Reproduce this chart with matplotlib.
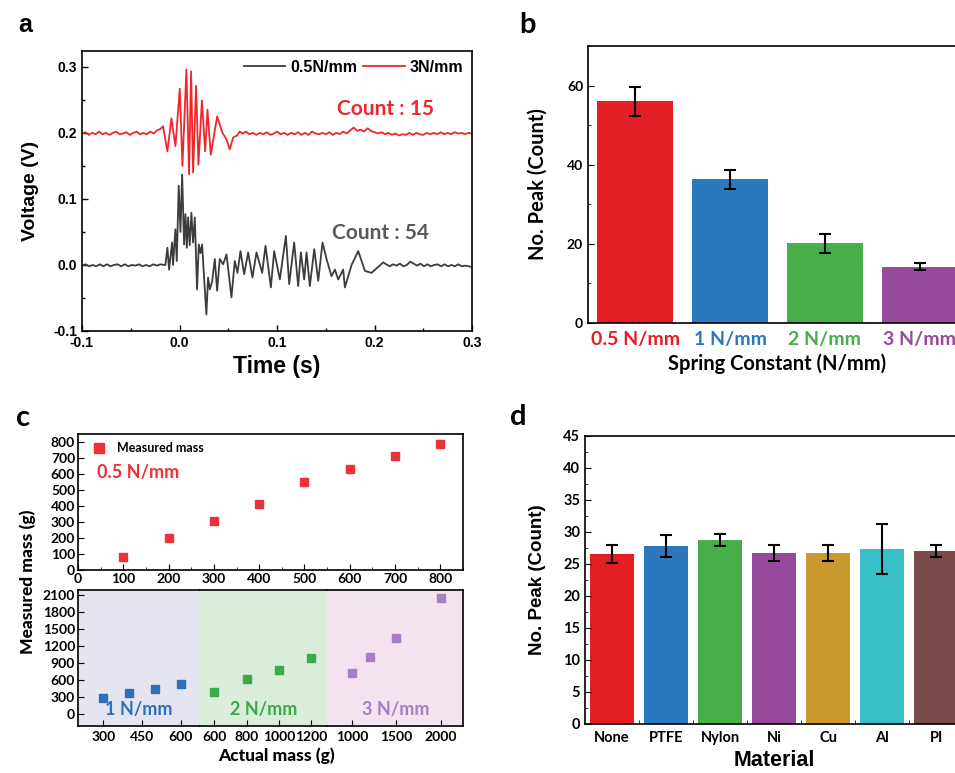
import numpy as np
import matplotlib
matplotlib.use("Agg")
from matplotlib import pyplot as plt
from matplotlib.ticker import MultipleLocator

plt.rcParams["axes.unicode_minus"] = False

W, H = 955, 773

# ---- panel a : waveforms ----
red_pre_v = [0.199, 0.201, 0.197, 0.200, 0.198, 0.202, 0.198, 0.200, 0.197, 0.200,
             0.202, 0.198, 0.199, 0.201, 0.197, 0.200, 0.202, 0.198, 0.200, 0.198,
             0.202, 0.199, 0.204, 0.206]
red_burst_t = [-0.0169, -0.0124, -0.0083, -0.0042, 0.0003, 0.0030, 0.0071, 0.0098,
               0.0119, 0.0139, 0.0170, 0.0194, 0.0230, 0.0263, 0.0287, 0.0321,
               0.0386, 0.0441, 0.0482, 0.0516, 0.0550, 0.0590, 0.0618]
red_burst_v = [0.210, 0.172, 0.222, 0.180, 0.267, 0.150, 0.296, 0.137,
               0.293, 0.140, 0.271, 0.152, 0.249, 0.172, 0.235, 0.167,
               0.225, 0.200, 0.190, 0.175, 0.193, 0.196, 0.202]
red_post_v = [0.199, 0.202, 0.198, 0.200, 0.197, 0.200, 0.198, 0.201, 0.197, 0.199,
              0.202, 0.198, 0.200, 0.197, 0.200, 0.198, 0.201, 0.197, 0.200, 0.197,
              0.202, 0.199, 0.198, 0.200, 0.198, 0.201, 0.197, 0.200, 0.198, 0.202,
              0.199, 0.204, 0.208, 0.203, 0.205, 0.202, 0.207, 0.203, 0.201, 0.199,
              0.201, 0.198, 0.200, 0.197, 0.199, 0.196, 0.198, 0.197, 0.200, 0.197,
              0.200, 0.198, 0.197, 0.200, 0.198, 0.200, 0.198, 0.201, 0.198, 0.200,
              0.198, 0.201, 0.199, 0.200, 0.198, 0.200, 0.199]

blk_pre_v = [-0.001, 0.001, -0.002, 0.000, -0.002, 0.001, -0.002, 0.001, -0.002, 0.000,
             0.001, -0.002, 0.001, -0.002, 0.000, -0.001, 0.001, -0.002, 0.000, -0.002,
             0.001, -0.001, 0.001, 0.000]
blk_burst_t = [-0.0145, -0.0124, -0.0107, -0.0076, -0.0066, -0.0042, -0.0028, -0.0008,
               0.0010, 0.0027, 0.0047, 0.0061, 0.0075, 0.0088, 0.0105, 0.0122,
               0.0139, 0.0157, 0.0180, 0.0198, 0.0215, 0.0232, 0.0252, 0.0276,
               0.0293, 0.0311, 0.0335, 0.0362, 0.0386, 0.0413, 0.0447, 0.0482,
               0.0533, 0.0567, 0.0595, 0.0625, 0.0663, 0.0704, 0.0748, 0.0790,
               0.0848, 0.0882, 0.0937, 0.0971, 0.1029, 0.1091, 0.1125, 0.1176,
               0.1217, 0.1245, 0.1279, 0.1303, 0.1337, 0.1382, 0.1423, 0.1467,
               0.1508, 0.1559, 0.1594, 0.1628, 0.1679, 0.1696, 0.1765, 0.1833,
               0.1902, 0.1970, 0.2090]
blk_burst_v = [0.000, 0.026, -0.007, 0.034, 0.000, 0.054, 0.006, 0.120,
               0.050, 0.137, 0.031, 0.077, 0.026, 0.072, 0.030, 0.079,
               0.034, 0.072, -0.037, 0.031, 0.018, 0.031, -0.019, -0.075,
               -0.019, -0.037, -0.025, 0.009, -0.039, 0.009, 0.001, 0.016,
               -0.049, 0.006, -0.012, 0.021, -0.014, 0.019, -0.019, 0.019,
               -0.012, 0.029, -0.034, 0.021, -0.022, 0.044, -0.029, 0.034,
               -0.032, 0.019, -0.022, 0.019, -0.032, 0.024, -0.024, 0.034,
               0.009, -0.017, -0.007, -0.022, -0.007, -0.034, 0.000, 0.021,
               -0.009, -0.012, 0.004]
blk_post_v = [0.001, -0.002, 0.001, -0.001, 0.002, -0.002, 0.000, 0.005, 0.002, -0.001,
              0.002, -0.002, 0.001, -0.002, 0.000, 0.001, -0.002, 0.001, -0.002, 0.000,
              -0.002, 0.001, -0.002, -0.001, -0.002, -0.003]

# ---- panel b ----
spring = ["0.5 N/mm", "1 N/mm", "2 N/mm", "3 N/mm"]
spring_peak = [56.0, 36.3, 20.1, 14.2]
spring_err = [3.7, 2.4, 2.4, 0.9]
spring_col = ["#e31e25", "#2c78bd", "#48ae4a", "#974a9b"]

# ---- panel c ----
act_05 = [100, 200, 300, 400, 500, 600, 700, 800]
meas_05 = [83, 198, 308, 415, 548, 631, 712, 790]
act_1 = [300, 400, 500, 600]
meas_1 = [272, 361, 444, 533]
act_2 = [600, 800, 1000, 1200]
meas_2 = [379, 621, 775, 982]
act_3 = [1000, 1200, 1500, 2000]
meas_3 = [722, 1006, 1349, 2053]

# ---- panel d ----
materials = ["None", "PTFE", "Nylon", "Ni", "Cu", "Al", "PI"]
mat_peak = [26.5, 27.8, 28.7, 26.7, 26.7, 27.3, 27.0]
mat_err = [1.35, 1.7, 0.95, 1.25, 1.25, 3.9, 0.9]
mat_col = ["#e31e25", "#2c78bd", "#48ae4a", "#974a9b", "#c9992d", "#36bfc4", "#7b4a4a"]


def box(l, t, r, b):
    return [l / W, 1 - b / H, (r - l) / W, (b - t) / H]


fig = plt.figure(figsize=(W / 100, H / 100), dpi=100)
arial = "Liberation Sans"
cal = "Lato"

# ================= a =================
ax = fig.add_axes(box(82, 51, 472, 331))
t_rpre = np.linspace(-0.1, -0.0195, len(red_pre_v))
t_rpost = np.linspace(0.0645, 0.3, len(red_post_v))
t_bpre = np.linspace(-0.1, -0.016, len(blk_pre_v))
t_bpost = np.linspace(0.212, 0.3, len(blk_post_v))
ax.plot(np.r_[t_bpre, blk_burst_t, t_bpost], np.r_[blk_pre_v, blk_burst_v, blk_post_v],
        color="#3c3c3c", lw=1.3, label="0.5N/mm")
ax.plot(np.r_[t_rpre, red_burst_t, t_rpost], np.r_[red_pre_v, red_burst_v, red_post_v],
        color="#f0262b", lw=1.3, label="3N/mm")
ax.set_xlim(-0.1, 0.3)
ax.set_ylim(-0.1, 0.324)
ax.set_xticks([-0.1, 0.0, 0.1, 0.2, 0.3])
ax.set_yticks([-0.1, 0.0, 0.1, 0.2, 0.3])
ax.xaxis.set_minor_locator(MultipleLocator(0.05))
ax.yaxis.set_minor_locator(MultipleLocator(0.05))
ax.tick_params(which="both", direction="in", width=1.0)
ax.tick_params(which="major", length=4)
ax.tick_params(which="minor", length=2.5)
for lab in ax.get_xticklabels() + ax.get_yticklabels():
    lab.set_fontfamily(arial)
    lab.set_fontweight("bold")
    lab.set_fontsize(10)
for s in ax.spines.values():
    s.set_linewidth(1.2)
ax.set_xlabel("Time (s)", fontfamily=arial, fontweight="bold", fontsize=16.5, labelpad=4)
ax.set_ylabel("Voltage (V)", fontfamily=arial, fontweight="bold", fontsize=14, labelpad=10)
ax.legend(loc="upper right", ncol=2, frameon=False, handlelength=2.6, columnspacing=0.4,
          handletextpad=0.3, borderaxespad=0.15,
          prop={"family": arial, "weight": "bold", "size": 11.5})
ax.text(0.777, 0.2355, "Count : 15", color="#f0262b", fontfamily=cal, fontweight="bold",
        fontsize=15, ha="center", va="center", transform=ax.get_yaxis_transform())
ax.text(0.764, 0.0485, "Count : 54", color="#5a5a5a", fontfamily=cal, fontweight="bold",
        fontsize=15, ha="center", va="center", transform=ax.get_yaxis_transform())
fig.text(25 / W, 1 - 25 / H, "a", fontfamily=arial, fontweight="bold", fontsize=18,
         ha="center", va="center")

# ================= b =================
bx = fig.add_axes(box(588, 46, 967, 323))
xb = np.arange(len(spring))
bx.bar(xb, spring_peak, width=0.8, color=spring_col, yerr=spring_err,
       error_kw=dict(ecolor="black", elinewidth=1.5, capsize=4, capthick=1.5))
bx.set_xlim(-0.5, 3.5)
bx.set_ylim(0, 70)
bx.set_yticks([0, 20, 40, 60])
bx.yaxis.set_minor_locator(MultipleLocator(10))
bx.set_xticks(xb)
bx.set_xticklabels(spring)
bx.tick_params(axis="x", length=0, pad=6)
bx.tick_params(axis="y", which="both", direction="in")
bx.tick_params(axis="y", which="major", length=4)
bx.tick_params(axis="y", which="minor", length=2)
for lab, c in zip(bx.get_xticklabels(), spring_col):
    lab.set_color(c)
    lab.set_fontfamily(cal)
    lab.set_fontweight("bold")
    lab.set_fontsize(14)
for lab in bx.get_yticklabels():
    lab.set_fontfamily(cal)
    lab.set_fontweight("bold")
    lab.set_fontsize(10)
for s in bx.spines.values():
    s.set_linewidth(1.2)
bx.set_xlabel("Spring Constant (N/mm)", fontfamily=cal, fontweight="bold", fontsize=14.5,
              labelpad=4)
bx.set_ylabel("No. Peak (Count)", fontfamily=cal, fontweight="bold", fontsize=14.5, labelpad=14)
fig.text(527 / W, 1 - 25 / H, "b", fontfamily=cal, fontweight="bold", fontsize=21,
         ha="center", va="center")

# ================= c (top) =================
cx = fig.add_axes(box(78, 434, 463, 570))
cx.plot(act_05, meas_05, "s", color="#ee3138", ms=6, label="Measured mass")
cx.set_xlim(0, 850)
cx.set_ylim(0, 850)
cx.set_xticks(range(0, 801, 100))
cx.set_yticks(range(0, 801, 100))
cx.xaxis.set_minor_locator(MultipleLocator(50))
cx.tick_params(which="both", direction="in", labelsize=10, pad=2)
cx.tick_params(which="major", length=4)
cx.tick_params(which="minor", length=2)
for lab in cx.get_xticklabels() + cx.get_yticklabels():
    lab.set_fontfamily(cal)
    lab.set_fontweight("bold")
for s in cx.spines.values():
    s.set_linewidth(1.2)
cx.legend(loc="upper left", frameon=False, handletextpad=0.5, borderaxespad=0.25,
          prop={"family": cal, "weight": "bold", "size": 9}, markerscale=1.3)
cx.text(0.05, 0.72, "0.5 N/mm", transform=cx.transAxes, color="#ee3138", fontfamily=cal,
        fontweight="bold", fontsize=13, va="center")

# ================= c (bottom, three ranges) =================
regions = [
    (78, 200, (201, 675), [300, 450, 600], act_1, meas_1, "#2d6fbb", "#e5e5f2", "1 N/mm"),
    (200, 327.3, (511, 1301), [600, 800, 1000, 1200], act_2, meas_2, "#3aaa4a", "#d9edd8", "2 N/mm"),
    (327.3, 463.3, (717, 2257), [1000, 1500, 2000], act_3, meas_3, "#a57fc2", "#f3e3ef", "3 N/mm"),
]
for i, (l, r, xl, xt, xa, ya, mc, bg, lbl) in enumerate(regions):
    rx = fig.add_axes(box(l, 590, r, 725.7))
    rx.set_facecolor(bg)
    rx.plot(xa, ya, "s", color=mc, ms=5.5)
    rx.set_xlim(*xl)
    rx.set_ylim(-213, 2195)
    rx.set_xticks(xt)
    rx.tick_params(axis="x", direction="in", length=4, labelsize=10, pad=4)
    rx.set_yticks(range(0, 2101, 300))
    rx.tick_params(axis="y", direction="in", length=4, labelsize=10, pad=2)
    for lab in rx.get_xticklabels() + rx.get_yticklabels():
        lab.set_fontfamily(cal)
        lab.set_fontweight("bold")
    for s in rx.spines.values():
        s.set_linewidth(1.2)
    if i > 0:
        rx.spines["left"].set_visible(False)
        rx.tick_params(axis="y", left=False, labelleft=False)
    if i < 2:
        rx.spines["right"].set_visible(False)
    rx.text(0.5, 0.118, lbl, transform=rx.transAxes, color=mc, fontfamily=cal,
            fontweight="bold", fontsize=13, ha="center", va="center")

fig.text(28 / W, 1 - 582 / H, "Measured mass (g)", rotation=90, fontfamily=cal,
         fontweight="black", fontsize=12.5, ha="center", va="center")
fig.text(277 / W, 1 - 756 / H, "Actual mass (g)", fontfamily=cal, fontweight="black",
         fontsize=12.5, ha="center", va="center")
fig.text(23 / W, 1 - 418 / H, "c", fontfamily=cal, fontweight="bold", fontsize=21,
         ha="center", va="center")

# ================= d =================
dx = fig.add_axes(box(585, 435.7, 963, 723.7))
xd = np.arange(len(materials))
dx.bar(xd, mat_peak, width=0.8, color=mat_col, yerr=mat_err,
       error_kw=dict(ecolor="black", elinewidth=1.5, capsize=4, capthick=1.5))
dx.set_xlim(-0.5, 6.5)
dx.set_ylim(0, 45)
dx.set_yticks(range(0, 46, 5))
dx.yaxis.set_minor_locator(MultipleLocator(2.5))
dx.set_xticks(xd)
dx.set_xticklabels(materials)
dx.set_xticks(np.arange(0.5, 6.5, 1), minor=True)
dx.tick_params(axis="x", which="major", length=0, pad=5)
dx.tick_params(axis="x", which="minor", direction="in", length=3)
dx.tick_params(axis="y", which="both", direction="in")
dx.tick_params(axis="y", which="major", length=4)
dx.tick_params(axis="y", which="minor", length=2)
for lab in dx.get_xticklabels() + dx.get_yticklabels():
    lab.set_fontfamily(cal)
    lab.set_fontweight("bold")
    lab.set_fontsize(10.5)
for s in dx.spines.values():
    s.set_linewidth(1.2)
dx.set_ylabel("No. Peak (Count)", fontfamily=arial, fontweight="bold", fontsize=13.5, labelpad=12)
fig.text(774 / W, 1 - 771 / H, "Material", fontfamily=arial, fontweight="bold", fontsize=15.5,
         ha="center", va="bottom")
fig.text(518 / W, 1 - 417 / H, "d", fontfamily=cal, fontweight="bold", fontsize=21,
         ha="center", va="center")

fig.savefig("out.png", dpi=100)
